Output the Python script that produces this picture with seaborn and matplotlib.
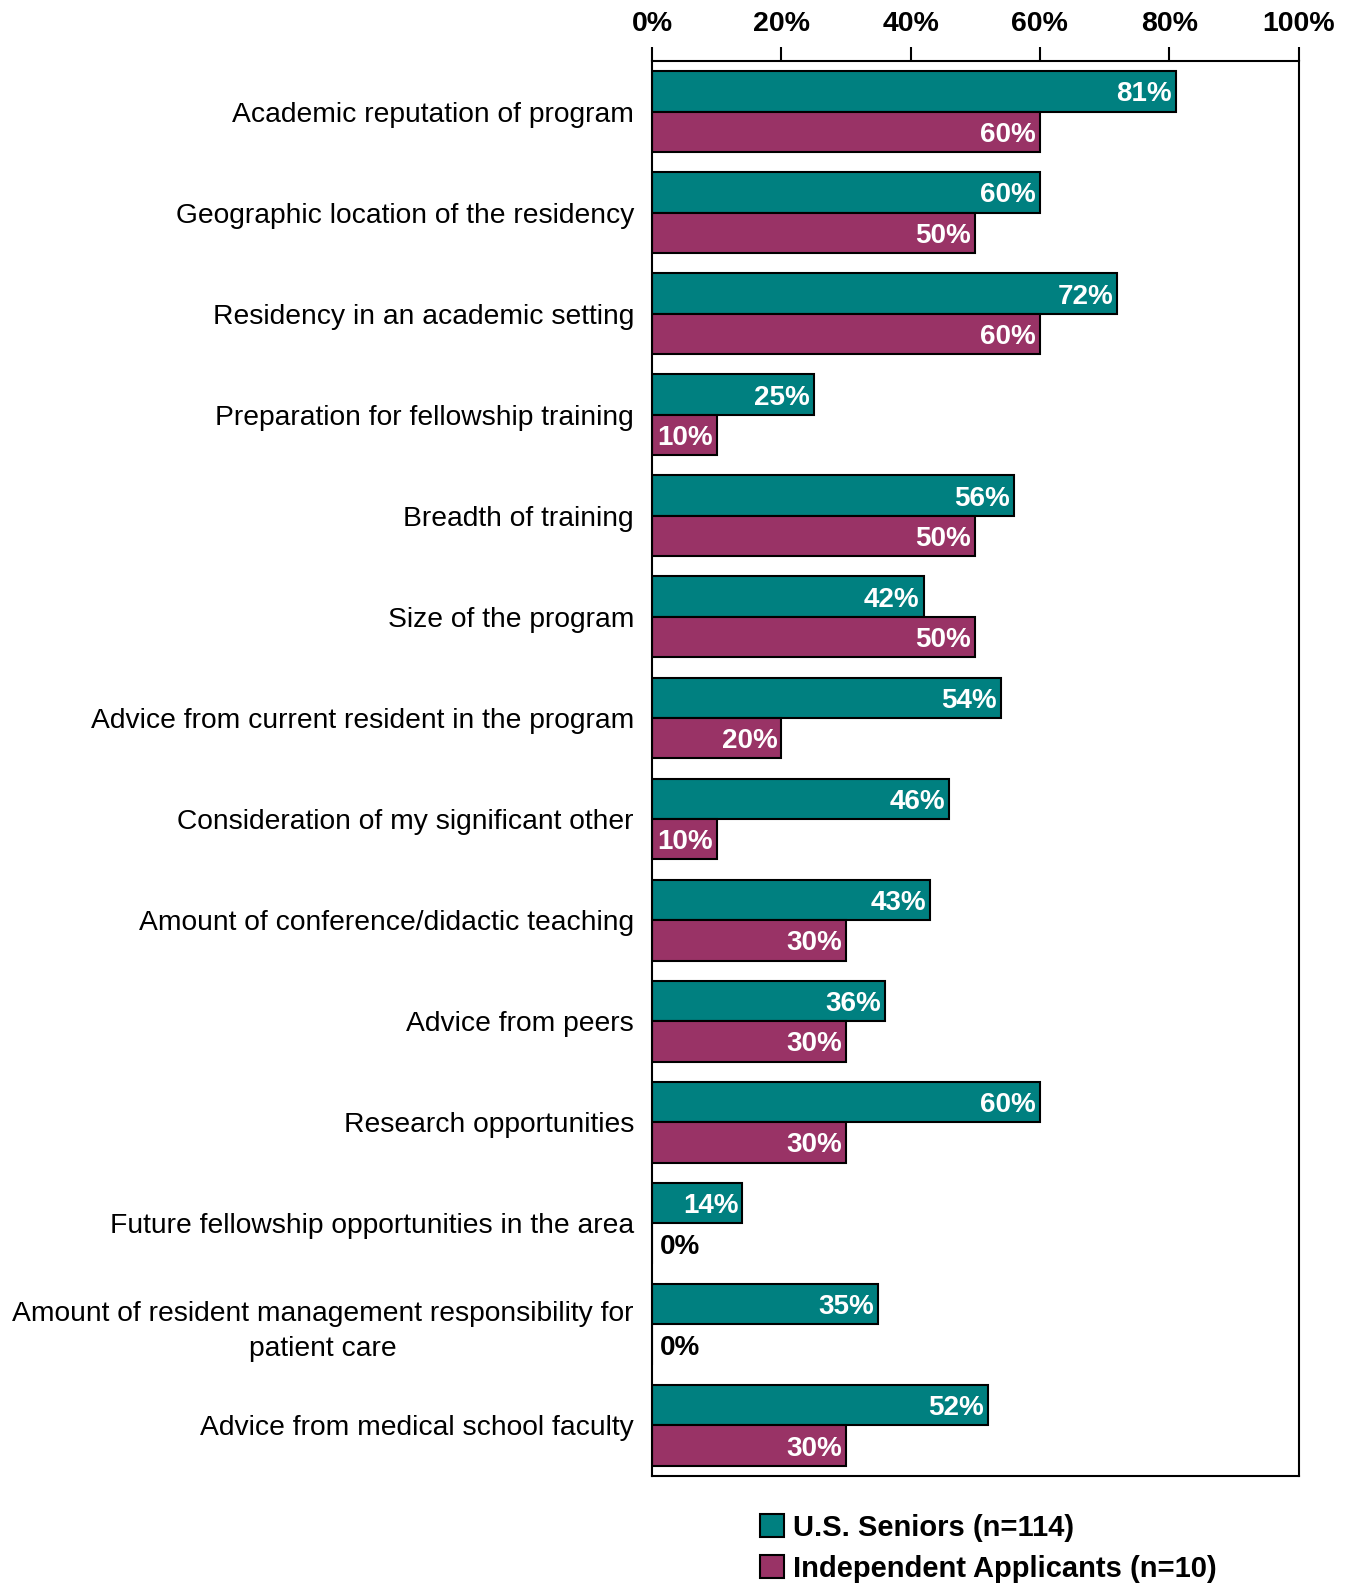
import matplotlib
matplotlib.use("Agg")
import matplotlib.pyplot as plt
import matplotlib.patches as mpatches
import seaborn as sns
import pandas as pd

categories = [
    "Academic reputation of program",
    "Geographic location of the residency",
    "Residency in an academic setting",
    "Preparation for fellowship training",
    "Breadth of training",
    "Size of the program",
    "Advice from current resident in the program",
    "Consideration of my significant other",
    "Amount of conference/didactic teaching",
    "Advice from peers",
    "Research opportunities",
    "Future fellowship opportunities in the area",
    "Amount of resident management responsibility for\npatient care",
    "Advice from medical school faculty",
]
us_seniors = [81, 60, 72, 25, 56, 42, 54, 46, 43, 36, 60, 14, 35, 52]
independent = [60, 50, 60, 10, 50, 50, 20, 10, 30, 30, 30, 0, 0, 30]
series_names = ["U.S. Seniors (n=114)", "Independent Applicants (n=10)"]
colors = ["#008080", "#993366"]
xticks = [0, 20, 40, 60, 80, 100]
xtick_labels = ["0%", "20%", "40%", "60%", "80%", "100%"]

df = pd.DataFrame({
    "Category": categories * 2,
    "Value": us_seniors + independent,
    "Group": [series_names[0]] * len(categories) + [series_names[1]] * len(categories),
})

sns.set_theme(style="white")
plt.rcParams["font.family"] = ["Liberation Sans", "DejaVu Sans"]
plt.rcParams["text.color"] = "black"
plt.rcParams["xtick.color"] = "black"
plt.rcParams["ytick.color"] = "black"

fig = plt.figure(figsize=(13.47, 15.85), dpi=100)
ax = fig.add_axes([0.484, 0.0688, 0.480, 0.8927])

sns.barplot(data=df, y="Category", x="Value", hue="Group", hue_order=series_names,
            order=categories, palette=colors, orient="h", width=0.8,
            edgecolor="black", linewidth=1.5, saturation=1, ax=ax, legend=False)

ax.set_xlim(0, 100)
ax.set_xlabel("")
ax.set_ylabel("")
ax.xaxis.tick_top()
ax.set_xticks(xticks)
ax.set_xticklabels(xtick_labels, fontsize=20.5, fontweight="bold")
ax.tick_params(axis="x", which="major", direction="out", length=10, width=1.5,
               pad=7, top=True, bottom=False, color="black", labelcolor="black")
ax.tick_params(axis="y", length=0, pad=13, labelsize=20.3, labelcolor="black")
for lbl in ax.get_yticklabels():
    lbl.set_multialignment("center")
    lbl.set_linespacing(1.45)

for sp in ax.spines.values():
    sp.set_visible(True)
    sp.set_color("black")
    sp.set_linewidth(1.5)

for cont in ax.containers:
    for patch in cont.patches:
        w = patch.get_width()
        yc = patch.get_y() + patch.get_height() / 2 + 0.03
        if w > 0:
            ax.text(w - 0.6, yc, f"{w:.0f}%", ha="right", va="center",
                    color="white", fontsize=20, fontweight="bold")
        else:
            ax.text(1.2, yc, "0%", ha="left", va="center",
                    color="black", fontsize=20, fontweight="bold")

handles = [mpatches.Patch(facecolor=c, edgecolor="black", linewidth=1.5) for c in colors]
fig.legend(handles, series_names, loc="upper left", bbox_to_anchor=(0.564, 0.045),
           frameon=False,
           prop={"family": ["Liberation Sans", "DejaVu Sans"], "weight": "bold", "size": 21},
           handlelength=0.85, handleheight=0.85, handletextpad=0.3, labelspacing=0.45,
           borderpad=0, borderaxespad=0)

fig.savefig("out.png", dpi=100)
